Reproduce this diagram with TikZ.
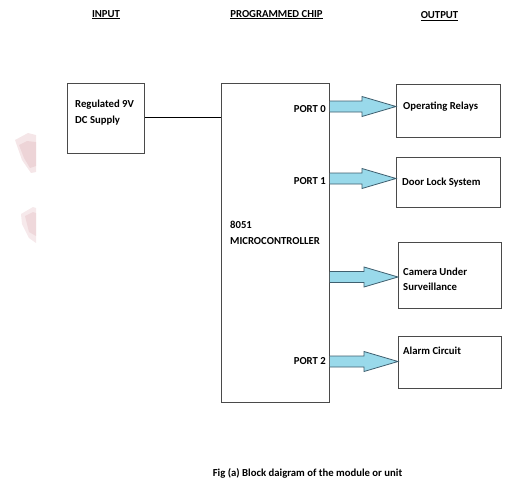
\documentclass[tikz,border=0pt]{standalone}
\usepackage{fontspec}
\setmainfont{Carlito}
\usetikzlibrary{calc}
\definecolor{arrfill}{HTML}{99D9EA}
\definecolor{arrline}{HTML}{3F5F6F}
\definecolor{boxline}{HTML}{4A4A4A}
\definecolor{blob}{HTML}{E8C8CC}
\newcommand\fatarr[2]{\draw[fat] let \p1=(#1), \p2=(#2) in
  (\x1,\y2+5.5pt) -- (\x2-34pt,\y2+5.5pt) -- (\x2-34pt,\y2+10pt) -- (\x2,\y2)
  -- (\x2-34pt,\y2-10pt) -- (\x2-34pt,\y2-5.5pt) -- (\x1,\y2-5.5pt);}
\begin{document}
\begin{tikzpicture}[x=1pt,y=-1pt,
  box/.style={draw=boxline, line width=0.9pt, inner sep=0pt, anchor=north west},
  lbl/.style={font=\bfseries\fontsize{10.7}{12}\selectfont, inner sep=0pt},
  fat/.style={draw=arrline, fill=arrfill, line width=0.8pt, line join=miter}]
\useasboundingbox (0,0) rectangle (506,479);
% faint artifacts
\fill[blob, opacity=0.45] (15,140) -- (28,133) -- (36,135) -- (36,172) -- (31,173) -- (22,160) -- cycle;
\fill[blob, opacity=0.6] (19,145) -- (27,141) -- (36,142) -- (36,166) -- (30,168) -- (24,158) -- cycle;
\fill[blob, opacity=0.4] (21,214) -- (33,207) -- (36,208) -- (36,243) -- (29,238) -- (22,224) -- cycle;
\fill[blob, opacity=0.5] (25,216) -- (33,212) -- (36,213) -- (36,236) -- (29,232) -- cycle;
% titles
\node[lbl, anchor=base] (tin) at (106,17) {\underline{INPUT}};
\node[lbl, anchor=base] (tchip) at (276.5,17) {\underline{PROGRAMMED CHIP}};
\node[lbl, anchor=base] (tout) at (439.5,18.5) {\underline{OUTPUT}};
% boxes
\node[box, minimum width=77pt, minimum height=70pt] (psu) at (67,83) {};
\node[box, minimum width=108pt, minimum height=319pt] (chip) at (221,83) {};
\node[box, minimum width=104pt, minimum height=53pt] (relays) at (396,84) {};
\node[box, minimum width=104pt, minimum height=50pt] (door) at (396,157) {};
\node[box, minimum width=103pt, minimum height=66pt] (cam) at (398,242) {};
\node[box, minimum width=103pt, minimum height=52pt] (alarm) at (398,336) {};
% texts
\node[lbl, anchor=base west] (t1) at (75,107.5) {Regulated 9V};
\node[lbl, anchor=base west] (t2) at (75,123) {DC Supply};
\node[lbl, anchor=base west] (t3) at (230,228) {8051};
\node[lbl, anchor=base west] (t4) at (230,244) {MICROCONTROLLER};
\node[lbl, anchor=base east] (p0) at (326,112.5) {PORT 0};
\node[lbl, anchor=base east] (p1) at (326,184.3) {PORT 1};
\node[lbl, anchor=base east] (p2) at (326,364.3) {PORT 2};
\node[lbl, anchor=base west] (o1) at (403,109) {Operating Relays};
\node[lbl, anchor=base west] (o2) at (402,185) {Door Lock System};
\node[lbl, anchor=base west] (o3) at (403,275) {Camera Under};
\node[lbl, anchor=base west] (o3b) at (403,290.7) {Surveillance};
\node[lbl, anchor=base west] (o4) at (403,354) {Alarm Circuit};
\node[lbl, anchor=base] (cap) at (307.5,476) {Fig (a) Block daigram of the module or unit};
% connectors
\coordinate (s0) at (psu.east |- 0,117);
\draw[draw=black, line width=0.8pt] (s0) -- (s0 -| chip.west);
\coordinate (tip0) at (relays.west |- 0,106.5);
\coordinate (tip1) at (door.west |- 0,178.5);
\coordinate (tip2) at (cam.west |- 0,277);
\coordinate (tip3) at (alarm.west |- 0,361.5);
\fatarr{chip.east}{tip0}
\fatarr{chip.east}{tip1}
\fatarr{chip.east}{tip2}
\fatarr{chip.east}{tip3}
\end{tikzpicture}
\end{document}
